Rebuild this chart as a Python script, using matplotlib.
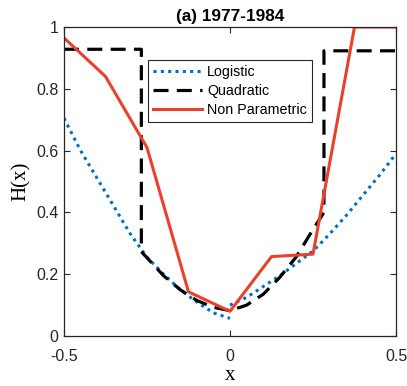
import matplotlib
matplotlib.use("Agg")
import matplotlib.pyplot as plt

# logistic fit, split at x = 0
logit_x_left = [-0.5, -0.45, -0.4, -0.35, -0.3, -0.25, -0.2, -0.15, -0.1, -0.05, 0.0]
logit_y_left = [0.705, 0.60, 0.51, 0.42, 0.33, 0.255, 0.20, 0.15, 0.11, 0.075, 0.057]
logit_x_right = [0.0, 0.05, 0.1, 0.15, 0.2, 0.25, 0.3, 0.35, 0.4, 0.45, 0.5]
logit_y_right = [0.10, 0.125, 0.16, 0.195, 0.235, 0.275, 0.33, 0.39, 0.455, 0.52, 0.59]

# quadratic fit
quad_x = [-0.5, -0.267, -0.267, -0.2, -0.15, -0.1, -0.05, 0.0, 0.05, 0.1, 0.15,
          0.2, 0.25, 0.283, 0.283, 0.5]
quad_y = [0.928, 0.928, 0.273, 0.195, 0.15, 0.115, 0.093, 0.082, 0.10, 0.135, 0.19,
          0.257, 0.345, 0.40, 0.923, 0.923]

# non parametric estimate
np_x = [-0.5, -0.375, -0.25, -0.125, 0.0, 0.125, 0.25, 0.375, 0.5]
np_y = [0.965, 0.84, 0.61, 0.143, 0.08, 0.257, 0.265, 1.0, 1.0]

blue = '#0072BD'
red = '#E8412C'

plt.rcParams['font.family'] = ['Liberation Sans', 'DejaVu Sans']
fig = plt.figure(figsize=(4.07, 3.86), dpi=100)
ax = fig.add_axes([0.1572, 0.1295, 0.8158, 0.8005])

ax.plot(logit_x_left, logit_y_left, color=blue, lw=2.2, dashes=(1, 1.4), label='Logistic')
ax.plot(logit_x_right, logit_y_right, color=blue, lw=2.2, dashes=(1, 1.4))
ax.plot(quad_x, quad_y, color='black', lw=2.3, dashes=(4.7, 2.6), label='Quadratic')
ax.plot(np_x, np_y, '-', color=red, lw=2.2, label='Non Parametric')

ax.set_xlim(-0.5, 0.5)
ax.set_ylim(0, 1)
ax.set_xticks([-0.5, 0, 0.5])
ax.set_xticklabels(['-0.5', '0', '0.5'])
ax.set_yticks([0, 0.2, 0.4, 0.6, 0.8, 1])
ax.set_yticklabels(['0', '0.2', '0.4', '0.6', '0.8', '1'])
ax.tick_params(direction='in', top=True, right=True, length=4, width=0.8,
               labelsize=11.5, colors='#262626')
ax.tick_params(axis='x', pad=9.5)
ax.tick_params(axis='y', pad=4)
for s in ax.spines.values():
    s.set_color('#262626')
    s.set_linewidth(0.9)

ax.set_title('(a) 1977-1984', fontsize=12.4, fontweight='bold', pad=4)
ax.set_xlabel('x', family='Liberation Serif', fontsize=15, labelpad=1)
ax.set_ylabel('H(x)', family='Liberation Serif', fontsize=15, labelpad=4)

leg = ax.legend(loc='upper left', bbox_to_anchor=(0.253, 0.893), fontsize=10.3,
                frameon=True, fancybox=False, edgecolor='#262626', framealpha=1,
                handlelength=3.4, handletextpad=0.4, borderpad=0.35,
                labelspacing=0.33, borderaxespad=0)
leg.get_frame().set_linewidth(0.8)

fig.savefig('out.png', dpi=100)
